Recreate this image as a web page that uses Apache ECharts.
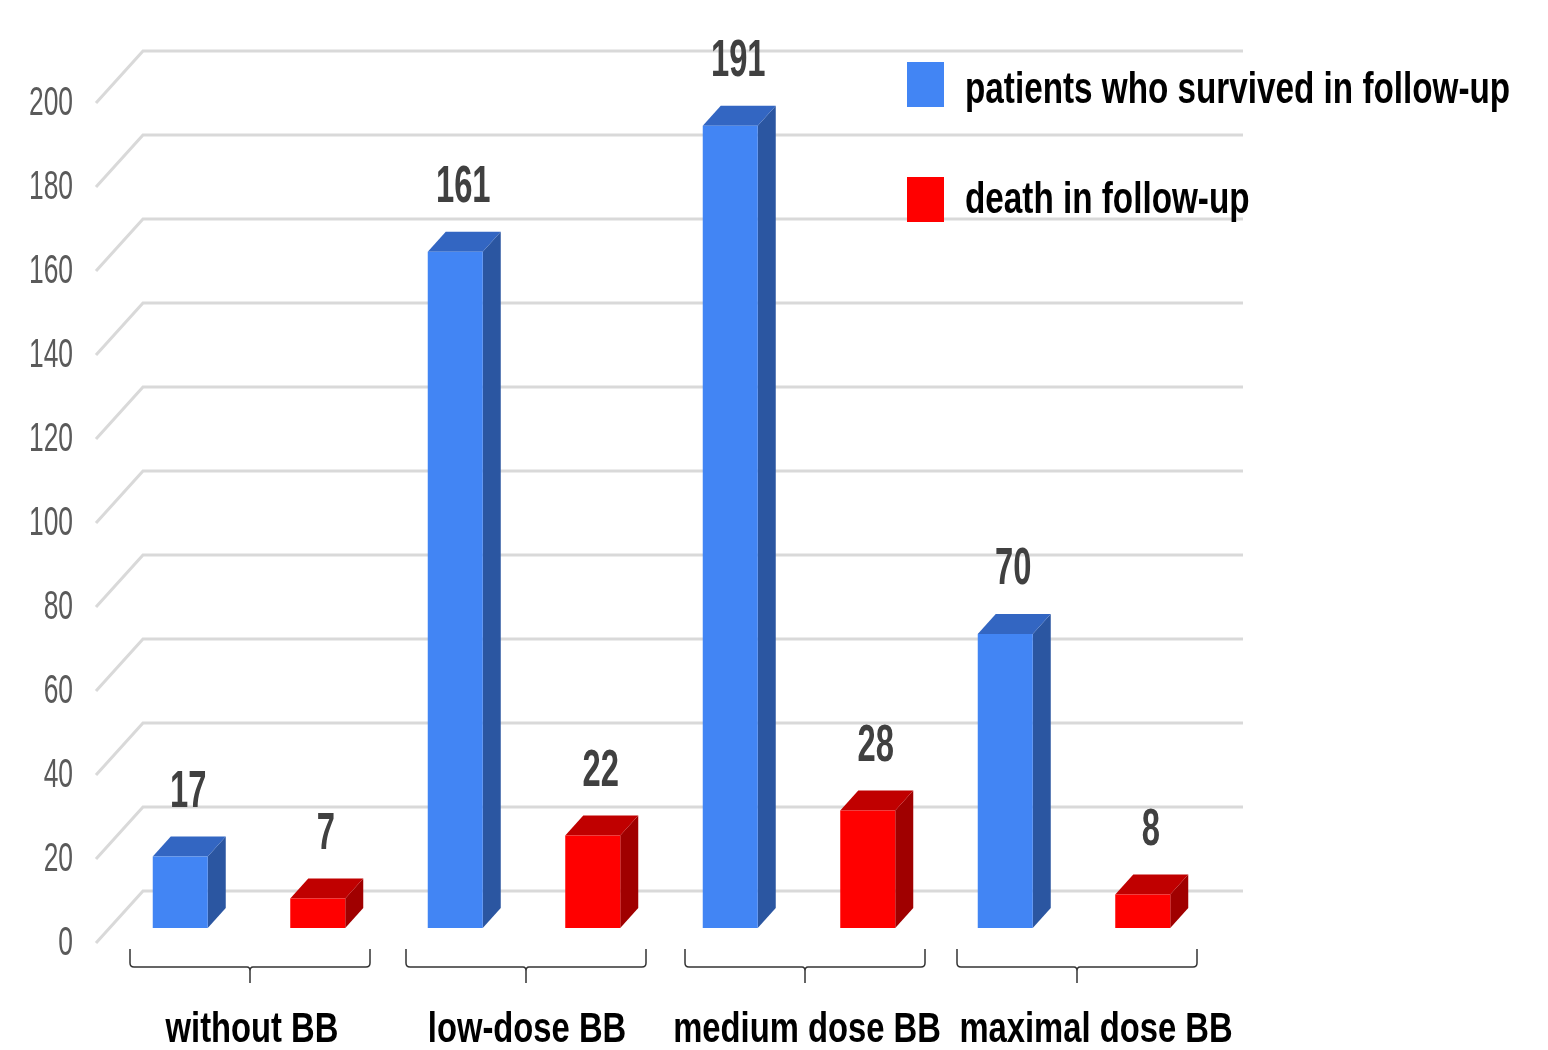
<!DOCTYPE html>
<html>
<head>
<meta charset="utf-8">
<title>Beta-blocker dose and follow-up outcome</title>
<script src="https://cdn.jsdelivr.net/npm/echarts@6/dist/echarts.min.js"></script>
<style>
  html, body { margin: 0; padding: 0; background: #ffffff; }
  #chart { width: 1548px; height: 1050px; }
</style>
</head>
<body>
<div id="chart"></div>
<script>
// Data
const categories = ['without BB', 'low-dose BB', 'medium dose BB', 'maximal dose BB'];
const survived = [17, 161, 191, 70];
const deaths = [7, 22, 28, 8];
const seriesNames = ['patients who survived in follow-up', 'death in follow-up'];
const yTicks = [0, 20, 40, 60, 80, 100, 120, 140, 160, 180, 200];
const yTickLabels = ['0', '20', '40', '60', '80', '100', '120', '140', '160', '180', '200'];

// Styling
const FONT = '"Liberation Sans", Arial, sans-serif';
const blueFaces = { front: '#4285F4', top: '#3366C2', side: '#2B56A1' };
const redFaces = { front: '#FF0000', top: '#C00000', side: '#A00000' };
const DEPTH_X = 18, DEPTH_Y = 20;   // bar extrusion
const FLOOR_LIFT = 15;              // bar baseline sits above the label plane
const bracketShift = [1, 2, 6, 3];  // brackets are not exactly centred on the bar pairs
const labelShift = [3, 3, 8, 22];   // horizontal nudges for category captions

const chart = echarts.init(document.getElementById('chart'), null, { renderer: 'canvas' });

// Perspective gridlines + y tick labels
function renderGrid(params, api) {
  const i = params.dataIndex;
  const v = api.value(1);
  const cs = params.coordSys;
  const y = api.coord([0, v])[1];
  const left = cs.x, right = cs.x + cs.width;
  return {
    type: 'group',
    children: [
      {
        type: 'polyline',
        shape: { points: [[left - 15.5, y], [left + 31.5, y - 52], [right + 31.5, y - 52]] },
        style: { stroke: '#d9d9d9', lineWidth: 3, fill: null }
      },
      {
        type: 'text',
        x: 73, y: y + 1, scaleX: 0.66,
        style: {
          text: yTickLabels[i], fill: '#5a5a5a', fontFamily: FONT, fontSize: 40,
          fontWeight: 'normal', align: 'right', verticalAlign: 'middle'
        }
      }
    ]
  };
}

function makeBarRenderer(offset, faces) {
  return function (params, api) {
    const idx = api.value(0);
    const v = api.value(1);
    const band = api.size([1, 0])[0];
    const base = api.coord([idx, 0]);
    const top = api.coord([idx, v]);
    const cx = base[0] + offset * band;
    const w = band * 0.2;
    const x0 = cx - w / 2, x1 = cx + w / 2;
    const yb = base[1] - FLOOR_LIFT, yt = top[1] - FLOOR_LIFT;
    return {
      type: 'group',
      children: [
        {
          type: 'polygon',
          shape: { points: [[x1, yb], [x1, yt], [x1 + DEPTH_X, yt - DEPTH_Y], [x1 + DEPTH_X, yb - DEPTH_Y]] },
          style: { fill: faces.side }
        },
        {
          type: 'polygon',
          shape: { points: [[x0, yt], [x1, yt], [x1 + DEPTH_X, yt - DEPTH_Y], [x0 + DEPTH_X, yt - DEPTH_Y]] },
          style: { fill: faces.top }
        },
        {
          type: 'rect',
          shape: { x: x0, y: yt, width: w, height: yb - yt },
          style: { fill: faces.front }
        },
        {
          type: 'text',
          x: cx + 8, y: yt - 64, scaleX: 0.63,
          style: {
            text: String(v), fill: '#404040', fontFamily: FONT, fontSize: 52,
            fontWeight: 'bold', align: 'center', verticalAlign: 'middle'
          }
        }
      ]
    };
  };
}

// Group brackets and category captions under the floor
function renderBrackets(params, api) {
  const idx = api.value(0);
  const p = api.coord([idx, 0]);
  const c = p[0] + bracketShift[idx], l = c - 120, r = c + 120;
  const t = p[1] + 6, h = p[1] + 24, b = p[1] + 40;
  const path =
    'M' + l + ',' + t + ' L' + l + ',' + (h - 4) + ' Q' + l + ',' + h + ' ' + (l + 4) + ',' + h +
    ' L' + (c - 3) + ',' + h + ' Q' + c + ',' + h + ' ' + c + ',' + (h + 4) + ' L' + c + ',' + b +
    ' M' + r + ',' + t + ' L' + r + ',' + (h - 4) + ' Q' + r + ',' + h + ' ' + (r - 4) + ',' + h +
    ' L' + (c + 3) + ',' + h + ' Q' + c + ',' + h + ' ' + c + ',' + (h + 4);
  return {
    type: 'group',
    children: [
      {
        type: 'path',
        shape: { pathData: path },
        style: { stroke: '#333333', lineWidth: 1.5, fill: null }
      },
      {
        type: 'text',
        x: p[0] + labelShift[idx], y: p[1] + 87, scaleX: 0.78,
        style: {
          text: categories[idx], fill: '#000000', fontFamily: FONT, fontSize: 42,
          fontWeight: 'bold', align: 'center', verticalAlign: 'middle'
        }
      }
    ]
  };
}

// Legend swatches and names, drawn above the gridlines
const legendItems = seriesNames.map(function (name, i) {
  const boxTop = i === 0 ? 62 : 177;
  const textY = i === 0 ? 91 : 201;
  return [
    {
      type: 'rect', left: 907, top: boxTop, z: 10,
      shape: { width: 37, height: 45 },
      style: { fill: i === 0 ? blueFaces.front : redFaces.front }
    },
    {
      type: 'text', x: 965, y: textY, z: 10, scaleX: 0.756,
      style: {
        text: name, fill: '#000000', fontFamily: FONT, fontSize: 44,
        fontWeight: 'bold', align: 'left', verticalAlign: 'middle'
      }
    }
  ];
}).flat();

const option = {
  backgroundColor: '#ffffff',
  animation: false,
  grid: { left: 111.5, right: 336.5, top: 103, bottom: 107 },
  xAxis: { type: 'category', data: categories, show: false },
  yAxis: { type: 'value', min: 0, max: 200, interval: 20, show: false },
  series: [
    {
      type: 'custom', name: 'grid', silent: true, clip: false, z: 1,
      renderItem: renderGrid,
      data: yTicks.map(function (v) { return [0, v]; })
    },
    {
      type: 'custom', name: seriesNames[0], clip: false, z: 3,
      renderItem: makeBarRenderer(-0.25, blueFaces),
      data: survived.map(function (v, i) { return [i, v]; })
    },
    {
      type: 'custom', name: seriesNames[1], clip: false, z: 3,
      renderItem: makeBarRenderer(0.25, redFaces),
      data: deaths.map(function (v, i) { return [i, v]; })
    },
    {
      type: 'custom', name: 'groups', silent: true, clip: false, z: 2,
      renderItem: renderBrackets,
      data: categories.map(function (c, i) { return [i, 0]; })
    }
  ],
  graphic: { elements: legendItems, z: 10 }
};

chart.setOption(option);
</script>
</body>
</html>
